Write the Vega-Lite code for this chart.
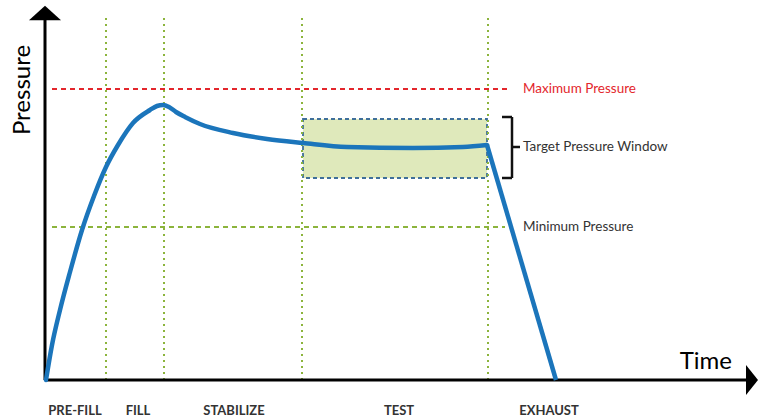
{
  "$schema": "https://vega.github.io/schema/vega-lite/v6.json",
  "width": 758,
  "height": 418,
  "autosize": {"type": "fit", "contains": "padding"},
  "padding": 0,
  "background": "white",
  "config": {"view": {"stroke": null}},
  "datasets": {
    "curve": [
      {"t": 1, "p": 0}, {"t": 7, "p": 35}, {"t": 15, "p": 70}, {"t": 25, "p": 108},
      {"t": 37, "p": 150}, {"t": 49, "p": 184}, {"t": 61, "p": 213}, {"t": 73, "p": 235},
      {"t": 88, "p": 257}, {"t": 105, "p": 270}, {"t": 112, "p": 274}, {"t": 118, "p": 275},
      {"t": 124, "p": 273}, {"t": 131, "p": 268}, {"t": 140, "p": 263}, {"t": 155, "p": 256},
      {"t": 188, "p": 247}, {"t": 222, "p": 241}, {"t": 258, "p": 237}, {"t": 302, "p": 233},
      {"t": 368, "p": 232}, {"t": 418, "p": 233}, {"t": 442, "p": 235}
    ],
    "exhaust": [{"t": 442, "p": 235}, {"t": 511, "p": 0}],
    "phases": [{"t": 61, "p": 0, "p2": 362}, {"t": 119, "p": 0, "p2": 362}, {"t": 257, "p": 0, "p2": 362}, {"t": 443, "p": 0, "p2": 362}],
    "maxLimit": [{"t": 7, "t2": 463, "p": 291}],
    "minLimit": [{"t": 7, "t2": 460, "p": 153}],
    "window": [{"t": 258, "t2": 442, "p": 261, "p2": 202}],
    "bracket": [
      {"t": 467, "t2": 467, "p": 263, "p2": 202},
      {"t": 457, "t2": 467, "p": 263, "p2": 263},
      {"t": 457, "t2": 467, "p": 202, "p2": 202},
      {"t": 467, "t2": 475, "p": 233, "p2": 233}
    ],
    "axes": [
      {"t": 0, "t2": 0, "p": 0, "p2": 364},
      {"t": 0, "t2": 704, "p": 0, "p2": 0}
    ],
    "arrowUp": [{"t": 0, "p": 367}],
    "arrowRight": [{"t": 707, "p": 0}],
    "maxLabel": [{"t": 478, "p": 291, "label": "Maximum Pressure"}],
    "otherLabels": [
      {"t": 478, "p": 233, "label": "Target Pressure Window"},
      {"t": 478, "p": 153, "label": "Minimum Pressure"}
    ],
    "phaseLabels": [
      {"t": 30, "p": -31, "label": "PRE-FILL"},
      {"t": 93, "p": -31, "label": "FILL"},
      {"t": 189, "p": -31, "label": "STABILIZE"},
      {"t": 354, "p": -31, "label": "TEST"},
      {"t": 504, "p": -31, "label": "EXHAUST"}
    ],
    "yTitle": [{"t": -22, "p": 290, "label": "Pressure"}],
    "xTitle": [{"t": 687, "p": 18, "label": "Time"}]
  },
  "encoding": {
    "x": {"field": "t", "type": "quantitative", "scale": {"domain": [-45, 713], "nice": false, "zero": false}, "axis": null},
    "y": {"field": "p", "type": "quantitative", "scale": {"domain": [-38, 380], "nice": false, "zero": false}, "axis": null}
  },
  "layer": [
    {
      "data": {"name": "window"},
      "mark": {"type": "rect", "fill": "#dfe9bb", "stroke": "#3f6f9a", "strokeDash": [4, 3], "strokeWidth": 1.8},
      "encoding": {"x2": {"field": "t2"}, "y2": {"field": "p2"}}
    },
    {
      "data": {"name": "phases"},
      "mark": {"type": "rule", "color": "#8cb43c", "strokeDash": [2, 4], "strokeWidth": 2},
      "encoding": {"y2": {"field": "p2"}}
    },
    {
      "data": {"name": "maxLimit"},
      "mark": {"type": "rule", "color": "#e3262c", "strokeDash": [5, 4], "strokeWidth": 1.8},
      "encoding": {"x2": {"field": "t2"}}
    },
    {
      "data": {"name": "minLimit"},
      "mark": {"type": "rule", "color": "#8cb43c", "strokeDash": [5, 4], "strokeWidth": 1.8},
      "encoding": {"x2": {"field": "t2"}}
    },
    {
      "data": {"name": "bracket"},
      "mark": {"type": "rule", "color": "#111111", "strokeWidth": 2.5},
      "encoding": {"x2": {"field": "t2"}, "y2": {"field": "p2"}}
    },
    {
      "data": {"name": "axes"},
      "mark": {"type": "rule", "color": "#000000", "strokeWidth": 3},
      "encoding": {"x2": {"field": "t2"}, "y2": {"field": "p2"}}
    },
    {
      "data": {"name": "arrowUp"},
      "mark": {"type": "point", "shape": "M0,-0.45L1,0.45L-1,0.45Z", "size": 1024, "filled": true, "color": "#000000", "opacity": 1}
    },
    {
      "data": {"name": "arrowRight"},
      "mark": {"type": "point", "shape": "M0.4,0L-0.4,1L-0.4,-1Z", "size": 900, "filled": true, "color": "#000000", "opacity": 1}
    },
    {
      "data": {"name": "curve"},
      "mark": {"type": "line", "color": "#1b75bb", "strokeWidth": 4.5, "interpolate": "monotone", "strokeCap": "round", "strokeJoin": "round"}
    },
    {
      "data": {"name": "exhaust"},
      "mark": {"type": "line", "color": "#1b75bb", "strokeWidth": 4.5, "strokeCap": "butt", "strokeJoin": "round"}
    },
    {
      "data": {"name": "maxLabel"},
      "mark": {"type": "text", "align": "left", "baseline": "middle", "font": "Lato", "fontSize": 13.5, "color": "#e3262c"},
      "encoding": {"text": {"field": "label"}}
    },
    {
      "data": {"name": "otherLabels"},
      "mark": {"type": "text", "align": "left", "baseline": "middle", "font": "Lato", "fontSize": 13.5, "color": "#333333"},
      "encoding": {"text": {"field": "label"}}
    },
    {
      "data": {"name": "phaseLabels"},
      "mark": {"type": "text", "align": "center", "baseline": "middle", "font": "Lato", "fontSize": 13, "fontWeight": "bold", "color": "#333333"},
      "encoding": {"text": {"field": "label"}}
    },
    {
      "data": {"name": "yTitle"},
      "mark": {"type": "text", "align": "center", "baseline": "middle", "angle": 270, "font": "Lato", "fontSize": 24, "color": "#000000"},
      "encoding": {"text": {"field": "label"}}
    },
    {
      "data": {"name": "xTitle"},
      "mark": {"type": "text", "align": "right", "baseline": "middle", "font": "Lato", "fontSize": 24, "color": "#000000"},
      "encoding": {"text": {"field": "label"}}
    }
  ]
}
